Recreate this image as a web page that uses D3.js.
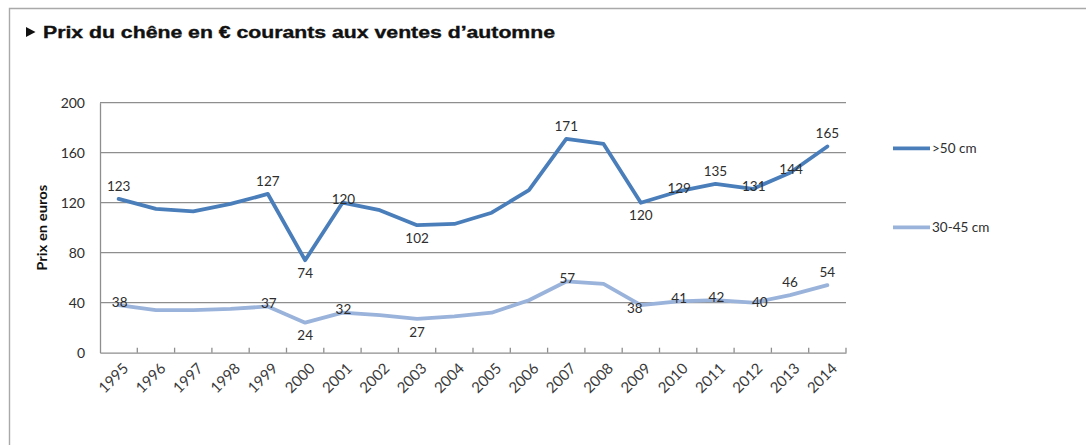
<!DOCTYPE html>
<html>
<head>
<meta charset="utf-8">
<script src="https://cdn.jsdelivr.net/npm/d3@7"></script>
<style>
  html, body { margin: 0; padding: 0; background: #fff; }
  svg { display: block; }
</style>
</head>
<body>
<svg id="chart" width="1086" height="445"></svg>
<script>
// Oak prices at autumn sales, current euros
const years = ["1995","1996","1997","1998","1999","2000","2001","2002","2003","2004",
               "2005","2006","2007","2008","2009","2010","2011","2012","2013","2014"];
const large = [123, 115, 113, 119, 127, 74, 120, 114, 102, 103,
               112, 130, 171, 167, 120, 129, 135, 131, 144, 165];
const medium = [38, 34, 34, 35, 37, 24, 32, 30, 27, 29,
                32, 42, 57, 55, 38, 41, 42, 40, 46, 54];
const seriesNames = [">50 cm", "30-45 cm"];
const yTicks = [0, 40, 80, 120, 160, 200];
const labelledYears = ["1995","1999","2000","2001","2003","2007","2009","2010","2011","2012","2013","2014"];
// where each value label sits relative to its point
const largeLabelPlace = { "1995":"above", "1999":"above", "2000":"below", "2001":"on", "2003":"below",
  "2007":"above", "2009":"below", "2010":"on", "2011":"above", "2012":"on", "2013":"on", "2014":"above" };
const mediumLabelPlace = { "1995":"on", "1999":"on", "2000":"below", "2001":"on", "2003":"below",
  "2007":"on", "2009":"onleft", "2010":"on", "2011":"on", "2012":"onright", "2013":"above", "2014":"above" };

const title = "Prix du chêne en € courants aux ventes d’automne";
const yTitle = "Prix en euros";

const svg = d3.select("#chart");
const W = 1086, H = 445;
const plot = { left: 100, right: 846, top: 102.7, bottom: 352.7 };
const colors = ["#4a7ebb", "#9ab3db"];
const textColor = "#2e2e2e";
const gridColor = "#8e8e8e";

// frame
svg.append("path")
  .attr("d", `M9.5,${H} V8.5 H${W}`)
  .attr("fill", "none").attr("stroke", "#a9a9a9").attr("stroke-width", 1.4);

// title with marker
svg.append("path").attr("d", "M26,27 L35.5,32 L26,37 Z").attr("fill", "#111");
svg.append("text")
  .attr("x", 43).attr("y", 37.5)
  .attr("font-family", "Liberation Sans, Arial, sans-serif")
  .attr("font-weight", "bold").attr("font-size", 16)
  .attr("fill", "#111")
  .attr("stroke", "#111").attr("stroke-width", 0.35)
  .attr("textLength", 512).attr("lengthAdjust", "spacingAndGlyphs")
  .text(title);

const x = d3.scaleBand().domain(years).range([plot.left, plot.right]);
const y = d3.scaleLinear().domain([0, 200]).range([plot.bottom, plot.top]);
const cx = d => x(d) + x.bandwidth() / 2;

// horizontal gridlines
svg.append("g").selectAll("line").data(yTicks.filter(t => t > 0)).join("line")
  .attr("x1", plot.left).attr("x2", plot.right)
  .attr("y1", d => y(d)).attr("y2", d => y(d))
  .attr("stroke", gridColor).attr("stroke-width", 1.3);

// y axis
const yAxis = svg.append("g")
  .attr("transform", `translate(${plot.left},0)`)
  .call(d3.axisLeft(y).tickValues(yTicks).tickSize(0).tickPadding(15));
yAxis.select(".domain").attr("stroke", gridColor).attr("stroke-width", 1.3);
yAxis.selectAll("text")
  .attr("font-family", "Lato, sans-serif").attr("font-size", 14)
  .attr("fill", textColor);

svg.append("text")
  .attr("transform", `translate(47,${(plot.top + plot.bottom) / 2}) rotate(-90)`)
  .attr("text-anchor", "middle")
  .attr("font-family", "Lato, sans-serif").attr("font-weight", "bold").attr("font-size", 14)
  .attr("fill", "#111")
  .attr("textLength", 86).attr("lengthAdjust", "spacingAndGlyphs")
  .text(yTitle);

// x axis with category boundary ticks
const xAxis = svg.append("g")
  .attr("transform", `translate(0,${plot.bottom})`)
  .call(d3.axisBottom(x).tickSize(0).tickPadding(0));
xAxis.select(".domain").attr("stroke", gridColor).attr("stroke-width", 1.3);
xAxis.selectAll(".tick line").remove();
xAxis.selectAll(".tick text")
  .attr("font-family", "Lato, sans-serif").attr("font-size", 15)
  .attr("fill", "#3a3a3a")
  .attr("text-anchor", "end")
  .attr("transform", "translate(7,13) rotate(-45)")
  .attr("dy", "0.35em");
svg.append("g").selectAll("line").data(years.slice(1).concat(["end"])).join("line")
  .attr("x1", (d, i) => plot.left + x.step() * (i + 1))
  .attr("x2", (d, i) => plot.left + x.step() * (i + 1))
  .attr("y1", plot.bottom - 5).attr("y2", plot.bottom)
  .attr("stroke", gridColor).attr("stroke-width", 1.3);

// lines
const line = d3.line().x((d, i) => cx(years[i])).y(d => y(d));
[large, medium].forEach((vals, s) => {
  svg.append("path").datum(vals)
    .attr("d", line)
    .attr("fill", "none")
    .attr("stroke", colors[s])
    .attr("stroke-width", 3.8)
    .attr("stroke-linejoin", "round")
    .attr("stroke-linecap", "round");
});

// value labels
const placeOffset = {
  above: [0, -13], below: [0, 13], on: [1, -3],
  onleft: [-6, 3], onright: [7, 0]
};
function drawLabels(vals, places) {
  svg.append("g").selectAll("text").data(labelledYears).join("text")
    .attr("x", d => cx(d) + placeOffset[places[d]][0])
    .attr("y", d => y(vals[years.indexOf(d)]) + placeOffset[places[d]][1])
    .attr("dy", "0.35em")
    .attr("text-anchor", "middle")
    .attr("font-family", "Lato, sans-serif").attr("font-size", 13.5)
    .attr("fill", textColor)
    .text(d => vals[years.indexOf(d)]);
}
drawLabels(large, largeLabelPlace);
drawLabels(medium, mediumLabelPlace);

// legend
const legend = svg.append("g");
[148.3, 227.3].forEach((ly, s) => {
  legend.append("line")
    .attr("x1", 893).attr("x2", 930).attr("y1", ly).attr("y2", ly)
    .attr("stroke", colors[s]).attr("stroke-width", 3.8);
  legend.append("text")
    .attr("x", 932).attr("y", ly).attr("dy", "0.35em")
    .attr("font-family", "Lato, sans-serif").attr("font-size", 13.5)
    .attr("fill", textColor)
    .text(seriesNames[s]);
});
</script>
</body>
</html>
